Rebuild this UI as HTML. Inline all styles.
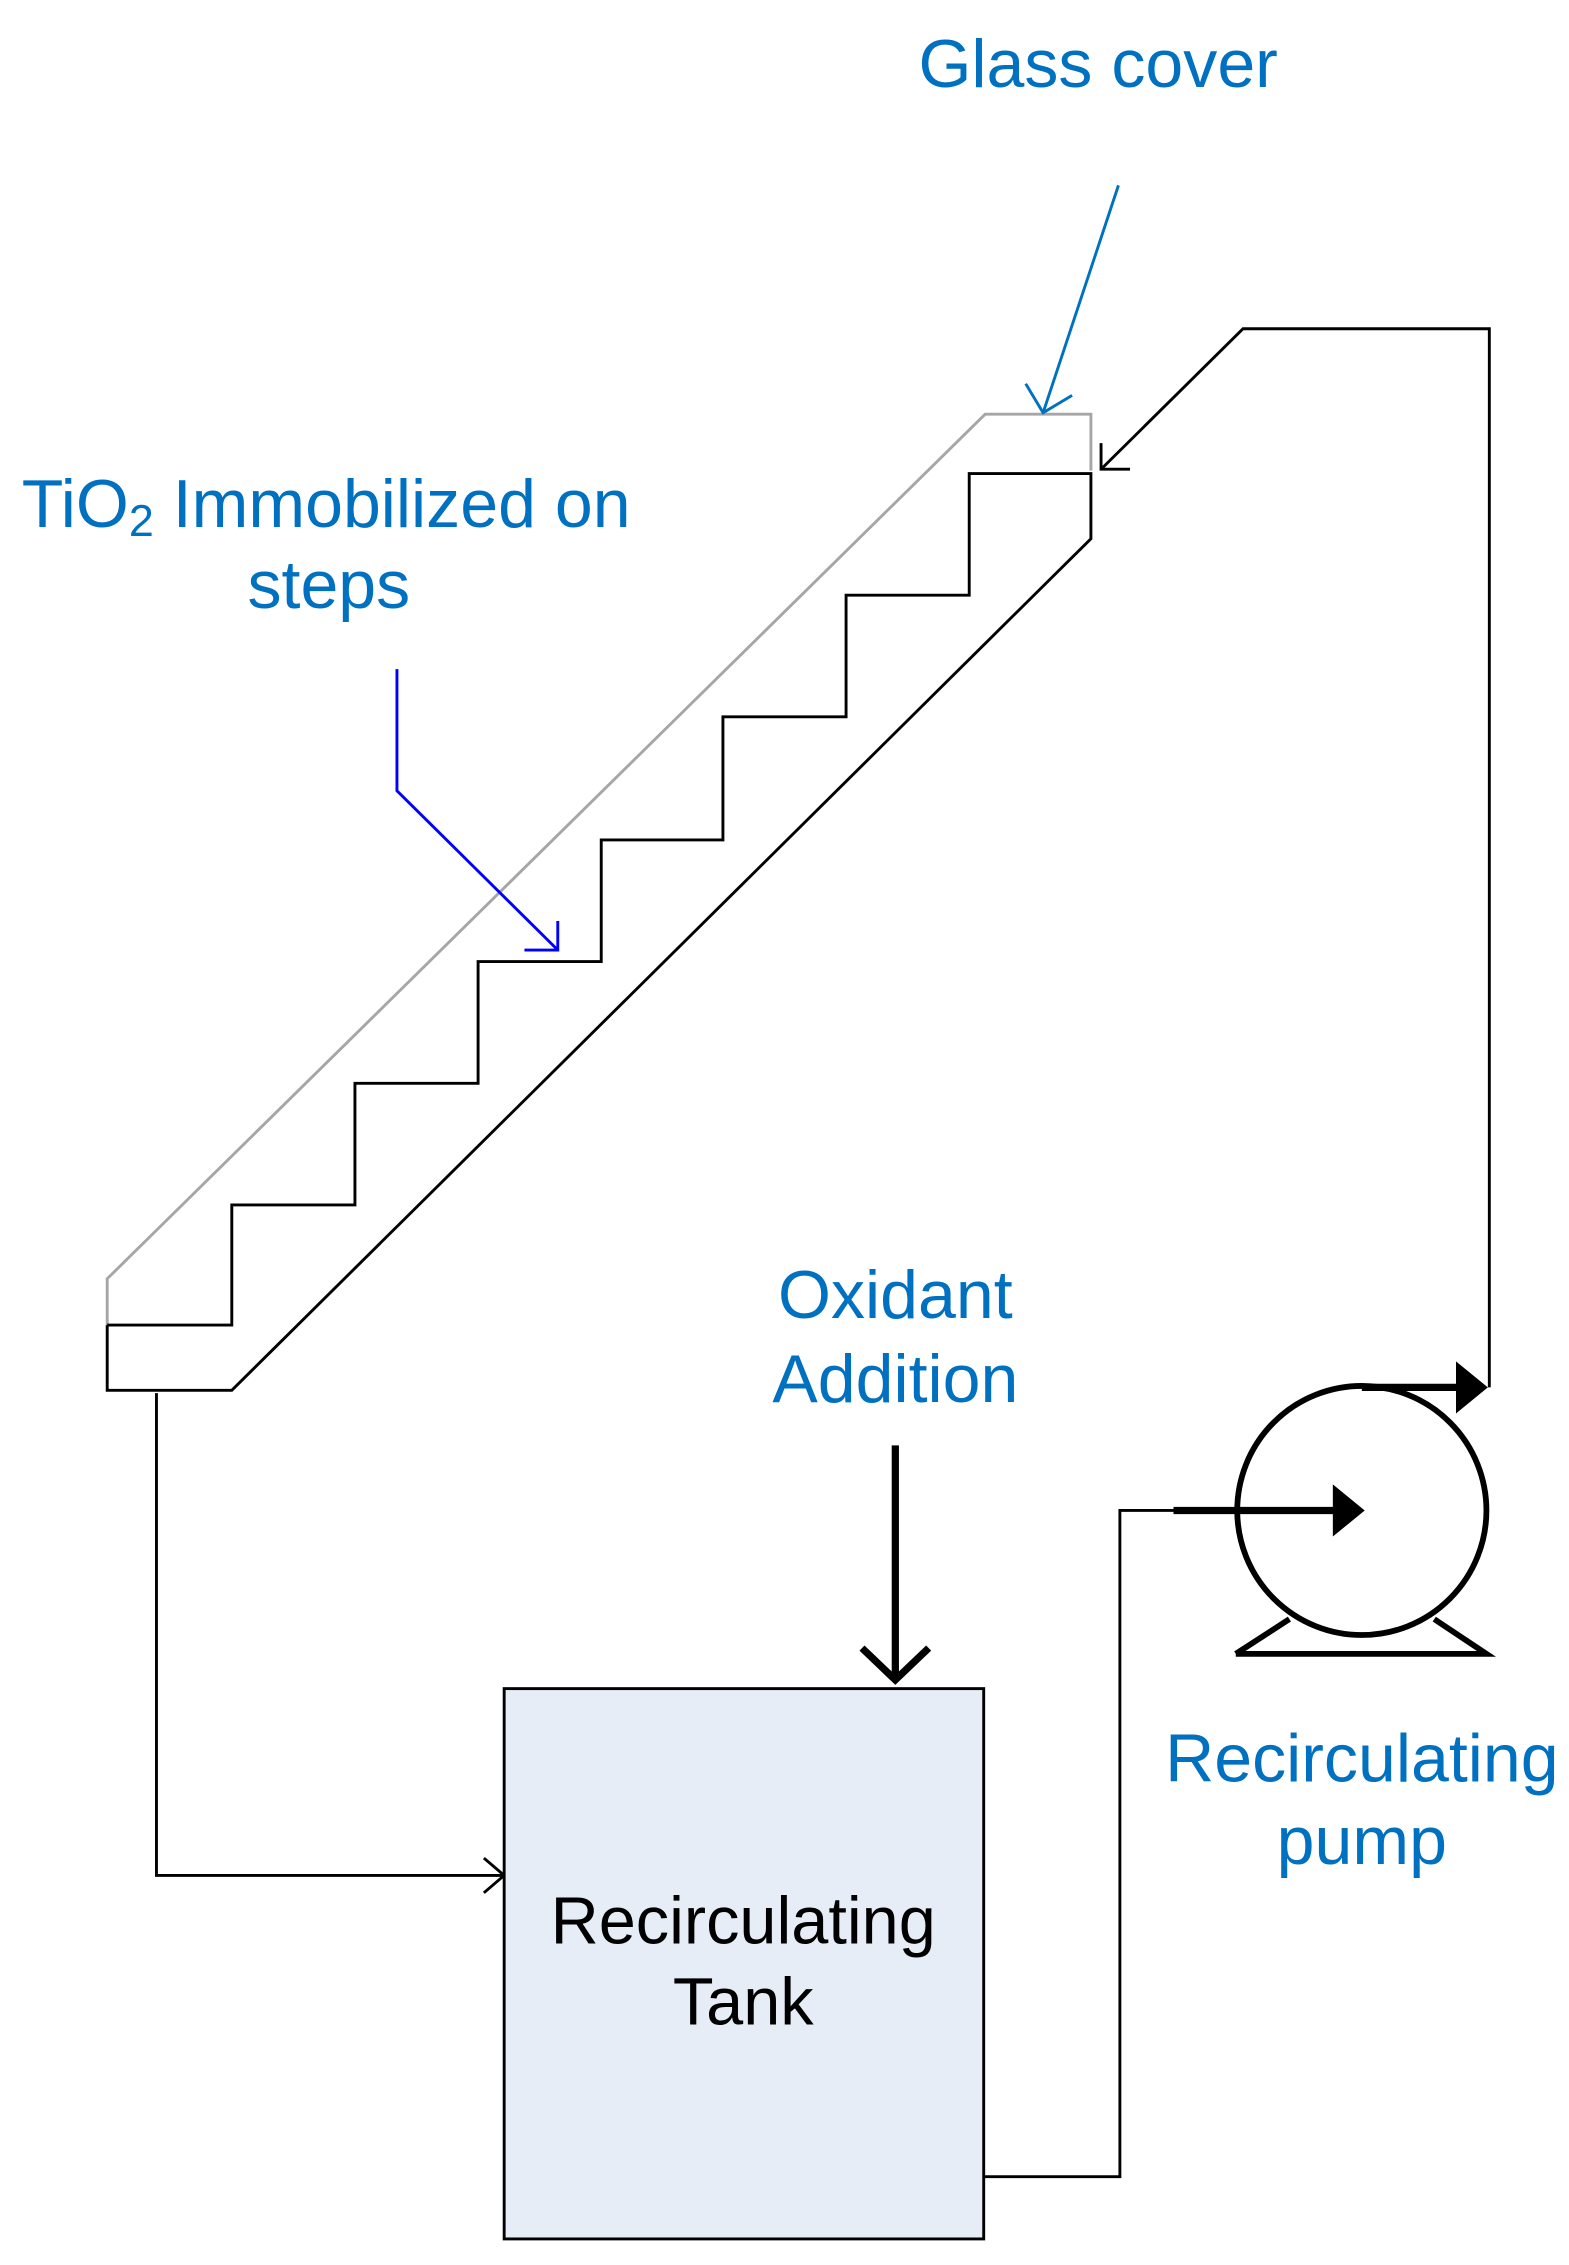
<!DOCTYPE html>
<html><head><style>html,body{margin:0;padding:0;background:#fff}svg{display:block}</style></head>
<body>
<svg width="1569" height="2265" viewBox="0 0 1083 1564" preserveAspectRatio="none" xmlns="http://www.w3.org/2000/svg" font-family="Liberation Sans, sans-serif">
<g fill="none" stroke-width="2">
<polyline points="74,915 74,883 680,286 753,286 753,325" stroke="#a6a6a6"/>
<polyline points="74,915 160,915 160,832 245,832 245,748 330,748 330,664 415,664 415,580 499,580 499,495 584,495 584,411 669,411 669,327 753,327 753,372 160,960 74,960 74,915" stroke="#000"/>
<polyline points="108,962 108,1295 348,1295" stroke="#000"/>
<polyline points="334,1283 348,1295 334,1307" stroke="#000"/>
<polyline points="679,1503 773,1503 773,1043 810,1043" stroke="#000"/>
<polyline points="1028,958 1028,227 858,227 760,324" stroke="#000"/>
<polyline points="760,306 760,324 780,324" stroke="#000"/>
<line x1="772" y1="128" x2="720" y2="285" stroke="#0070c0"/>
<polyline points="708,265 720,285 740,273" stroke="#0070c0"/>
<polyline points="274,462 274,546 385,656" stroke="#0000ff"/>
<polyline points="385,636 385,656 362,656" stroke="#0000ff"/>
</g>
<rect x="348" y="1166" width="331" height="380" fill="#e6edf6" stroke="#000" stroke-width="2"/>
<text x="513" y="1342" font-size="46" text-anchor="middle">Recirculating</text>
<text x="513" y="1398" font-size="46" text-anchor="middle">Tank</text>
<g stroke="#000" stroke-width="5" fill="none">
<line x1="618" y1="998" x2="618" y2="1160"/>
<polyline points="595,1138 618,1160 641,1138"/>
<circle cx="940" cy="1043" r="86" stroke-width="4"/>
<line x1="810" y1="1043" x2="922" y2="1043"/>
<line x1="940" y1="958" x2="1008" y2="958"/>
<polyline points="853,1142 1026,1142 990,1118" stroke-width="4"/>
<polyline points="853,1142 890,1118" stroke-width="4"/>
</g>
<polygon points="920,1025 942,1043 920,1061" fill="#000"/>
<polygon points="1005,940 1027,958 1005,976" fill="#000"/>
<g fill="#0070c0" font-size="47">
<text x="758" y="60" text-anchor="middle">Glass cover</text>
<text x="15" y="364">TiO<tspan font-size="31" dy="6">2</tspan><tspan dy="-6"> Immobilized on</tspan></text>
<text x="227" y="420" text-anchor="middle">steps</text>
<text x="618" y="910" text-anchor="middle">Oxidant</text>
<text x="618" y="968" text-anchor="middle">Addition</text>
<text x="940" y="1230" text-anchor="middle">Recirculating</text>
<text x="940" y="1287" text-anchor="middle">pump</text>
</g>
</svg>
</body></html>
